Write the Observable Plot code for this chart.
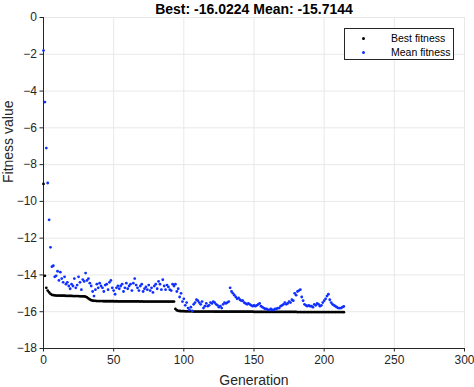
<!DOCTYPE html>
<html><head><meta charset="utf-8">
<script src="https://cdn.jsdelivr.net/npm/d3@7"></script>
<script src="https://cdn.jsdelivr.net/npm/@observablehq/plot@0.6"></script>
<style>
body{margin:0;background:#fff;}
#wrap{position:relative;width:474px;height:387px;overflow:hidden;font-family:"Liberation Sans",Arial,sans-serif;}
#legend{position:absolute;left:344px;top:28px;width:110px;height:32px;border:1px solid #262626;background:#fff;box-sizing:border-box;font-size:10.5px;color:#000;}
.row{position:absolute;left:0;height:12px;line-height:12px;}
.sw{position:absolute;left:17px;top:4.5px;width:3px;height:3px;border-radius:50%;}
.lt{position:absolute;left:46px;top:0;white-space:nowrap;}
</style>
</head><body>
<div id="wrap"></div>
<script>
const titleText = "Best: -16.0224 Mean: -15.7144";
const xLabel = "Generation";
const yLabel = "Fitness value";
const seriesNames = ["Best fitness", "Mean fitness"];
const seriesColors = ["#000000", "#1030ff"];
const xDomain = [0, 300];
const yDomain = [-18, 0];
const xTicks = [0, 50, 100, 150, 200, 250, 300];
const yTicks = [0, -2, -4, -6, -8, -10, -12, -14, -16, -18];

const best = [
-9.05,-14.05,-14.7,-14.85,-14.95,-15.03,-15.08,
-15.1,-15.11,-15.12,-15.12,-15.12,-15.13,-15.13,-15.13,-15.13,-15.14,
-15.14,-15.14,-15.14,-15.14,-15.15,-15.15,-15.15,-15.15,-15.15,-15.16,
-15.16,-15.16,-15.17,-15.18,
-15.22,-15.28,-15.33,-15.37,-15.4,
-15.41,-15.41,-15.42,-15.42,-15.42,-15.42,-15.42,-15.43,-15.43,-15.43,
-15.43,-15.43,-15.43,-15.43,-15.43,-15.44,-15.43,-15.44,-15.44,-15.44,
-15.44,-15.44,-15.44,-15.44,-15.44,-15.44,-15.44,-15.44,-15.44,-15.44,
-15.44,-15.44,-15.44,-15.45,-15.44,-15.45,-15.45,-15.45,-15.45,-15.45,
-15.45,-15.45,-15.45,-15.45,-15.45,-15.45,-15.45,-15.45,-15.45,-15.45,
-15.45,-15.45,-15.45,-15.45,-15.45,-15.45,-15.45,-15.45,
-15.85,-15.92,-15.95,
-15.96,-15.97,-15.97,-15.97,-15.98,-15.98,-15.98,-15.98,-15.98,-15.98,
-15.99,-15.99,-15.99,-15.99,-15.99,-15.99,-15.99,-15.99,-15.99,-15.99,
-15.99,-15.99,-15.99,-15.99,-15.99,-16.0,-16.0,-16.0,-16.0,-16.0,
-16.0,-16.0,-16.0,-16.0,-16.0,-16.0,-16.0,-16.0,-16.0,-16.0,
-16.0,-16.0,-16.0,-16.0,-16.0,-16.0,-16.0,-16.0,-16.0,-16.0,
-16.0,-16.0,-16.0,-16.01,-16.01,-16.01,-16.01,-16.01,-16.01,-16.01,
-16.01,-16.01,-16.01,-16.01,-16.01,-16.01,-16.01,-16.01,-16.01,-16.01,
-16.01,-16.01,-16.01,-16.01,-16.01,-16.01,-16.01,-16.01,-16.01,-16.01,
-16.01,-16.01,-16.01,-16.01,-16.02,-16.02,-16.02,-16.02,-16.02,-16.02,
-16.02,-16.02,-16.02,-16.02,-16.02,-16.02,-16.02,-16.02,-16.02,-16.02,
-16.02,-16.02,-16.02,-16.02,-16.02,-16.02,-16.02,-16.02,-16.02,-16.02,
-16.02,-16.02,-16.02,-16.02,-16.02,-16.02,-16.02,-16.0224
];

const mean = [
-1.8,-4.6,-7.1,-9.0,-11.0,-12.5,-13.55,-13.5,-14.1,-14.05,
-13.8,-14.3,-13.85,-14.2,-14.4,-14.1,-14.5,-14.4,-14.6,-14.75,
-14.5,-14.6,-14.2,-14.7,-14.55,-14.1,-14.4,-14.8,-14.25,-14.35,
-13.9,-14.3,-14.2,-14.45,-14.6,-14.9,-15.15,-14.8,-14.5,-14.7,
-14.45,-14.6,-14.7,-14.9,-14.55,-14.5,-14.8,-14.4,-14.3,-14.7,
-14.85,-15.05,-14.7,-14.6,-14.75,-14.6,-14.5,-14.9,-14.7,-14.45,
-14.75,-14.6,-14.5,-14.85,-14.45,-14.2,-14.55,-14.7,-14.85,-14.6,
-14.5,-14.9,-14.75,-14.65,-14.8,-14.55,-14.85,-14.7,-14.95,-14.6,
-14.5,-14.75,-14.35,-14.5,-14.8,-14.26,-14.6,-14.8,-14.55,-14.65,
-14.8,-14.85,-14.5,-14.6,-14.5,-14.9,-14.75,-15.2,-15.0,-15.45,
-15.3,-15.65,-15.5,-15.8,-15.9,-15.75,-15.95,-15.6,-15.5,-15.35,
-15.4,-15.5,-15.6,-15.45,-15.8,-15.7,-15.55,-15.7,-15.65,-15.5,
-15.55,-15.45,-15.5,-15.6,-15.65,-15.75,-15.7,-15.8,-15.6,-15.5,
-15.55,-15.5,-15.45,-14.7,-14.9,-15.0,-15.1,-15.2,-15.3,-15.25,
-15.35,-15.4,-15.4,-15.5,-15.55,-15.6,-15.55,-15.6,-15.65,-15.7,
-15.65,-15.7,-15.65,-15.6,-15.55,-15.7,-15.75,-15.8,-15.85,-15.85,
-15.9,-15.9,-15.85,-15.9,-15.9,-15.85,-15.85,-15.8,-15.8,-15.7,
-15.65,-15.6,-15.5,-15.6,-15.55,-15.45,-15.5,-15.35,-15.4,-15.0,
-15.1,-14.9,-14.85,-14.8,-15.2,-15.4,-15.6,-15.65,-15.7,-15.65,
-15.7,-15.7,-15.75,-15.6,-15.65,-15.55,-15.6,-15.7,-15.65,-15.5,
-15.4,-15.3,-15.15,-15.05,-15.35,-15.5,-15.6,-15.65,-15.7,-15.75,
-15.8,-15.8,-15.8,-15.75,-15.7144
];

const bestRows = best.map((v, i) => ({generation: i, value: v}));
const meanRows = mean.map((v, i) => ({generation: i, value: v}));

const font = "Liberation Sans, Arial, Helvetica, sans-serif";
const chart = Plot.plot({
  width: 474, height: 387,
  marginLeft: 43, marginRight: 10, marginTop: 17, marginBottom: 39,
  style: {fontFamily: font, fontSize: "12px", color: "#262626", background: "#fff", overflow: "visible"},
  x: {domain: xDomain},
  y: {domain: yDomain},
  marks: [
    Plot.gridX(xTicks, {stroke: "#e8e8e8", strokeOpacity: 1}),
    Plot.gridY(yTicks, {stroke: "#e8e8e8", strokeOpacity: 1}),
    Plot.ruleX([xDomain[0]], {stroke: "#262626", strokeWidth: 1}),
    Plot.ruleY([yDomain[0]], {stroke: "#262626", strokeWidth: 1}),
    Plot.axisX(xTicks, {tickSize: 3.5, tickPadding: 3, label: null, fontSize: 12, stroke: "#262626", fill: "#262626"}),
    Plot.axisY(yTicks, {tickSize: 3.5, tickPadding: 3, label: null, fontSize: 12, stroke: "#262626", fill: "#262626"}),
    Plot.text([xLabel], {frameAnchor: "bottom", dy: 36, fontSize: 14, fill: "#262626"}),
    Plot.text([yLabel], {frameAnchor: "left", rotate: -90, dx: -35, fontSize: 14, fill: "#262626"}),
    Plot.text([titleText], {frameAnchor: "top", dy: -13, fontSize: 14, fontWeight: "bold", fill: "#000"}),
    Plot.dot(bestRows, {x: "generation", y: "value", r: 1.4, fill: seriesColors[0], stroke: null}),
    Plot.dot(meanRows, {x: "generation", y: "value", r: 1.4, fill: seriesColors[1], stroke: null})
  ]
});

const wrap = document.getElementById("wrap");
wrap.appendChild(chart);
const legend = document.createElement("div");
legend.id = "legend";
seriesNames.forEach((name, i) => {
  const row = document.createElement("div");
  row.className = "row";
  row.style.top = (3 + i * 14) + "px";
  row.style.width = "100%";
  const sw = document.createElement("span");
  sw.className = "sw";
  sw.style.background = seriesColors[i];
  const lt = document.createElement("span");
  lt.className = "lt";
  lt.textContent = name;
  row.appendChild(sw); row.appendChild(lt);
  legend.appendChild(row);
});
wrap.appendChild(legend);
</script>
</body></html>
